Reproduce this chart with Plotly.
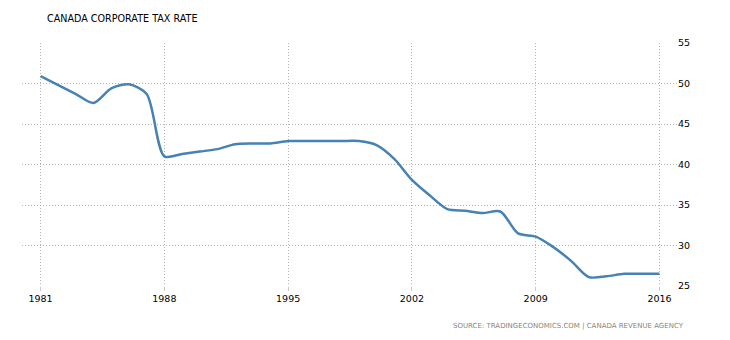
import plotly.graph_objects as go

# Canada corporate tax rate (%), yearly
years = list(range(1981, 2017))
rates = [50.9, 49.8, 48.7, 47.6, 49.4, 49.9, 48.7, 41.0, 41.3, 41.6,
         41.9, 42.5, 42.6, 42.6, 42.9, 42.9, 42.9, 42.9, 42.9, 42.4,
         40.7, 38.1, 36.2, 34.5, 34.3, 34.0, 34.2, 31.5, 31.1, 29.8,
         28.1, 26.1, 26.2, 26.5, 26.5, 26.5]

x_ticks = [1981, 1988, 1995, 2002, 2009, 2016]
y_ticks = [25, 30, 35, 40, 45, 50, 55]

title_text = "CANADA CORPORATE TAX RATE"
source_text = "SOURCE: TRADINGECONOMICS.COM | CANADA REVENUE AGENCY"

fig = go.Figure()
fig.add_trace(go.Scatter(
    x=years, y=rates, mode="lines",
    line=dict(color="#4682b4", width=2.5, shape="spline", smoothing=0.8),
    hoverinfo="x+y",
))

grid = dict(showgrid=True, gridcolor="#b4b4b4", griddash="1px,2px", gridwidth=1,
            zeroline=False, showline=False)

fig.update_layout(
    width=730, height=340,
    margin=dict(l=22, r=53, t=43, b=54),
    paper_bgcolor="white", plot_bgcolor="white",
    showlegend=False,
    font=dict(family="DejaVu Sans", size=9.5, color="#000000"),
    xaxis=dict(range=[1979.95, 2016.99], tickvals=x_ticks,
               ticktext=[str(t) for t in x_ticks], ticks="outside",
               ticklen=4, tickcolor="#c8c8c8", **grid),
    yaxis=dict(range=[25, 55], tickvals=y_ticks, side="right",
               ticks="", **grid),
    annotations=[
        dict(text=title_text, xref="paper", yref="paper",
             x=0.035, y=1.0, xanchor="left", yanchor="bottom",
             yshift=17, showarrow=False,
             font=dict(family="DejaVu Sans", size=9.6, color="#000000")),
        dict(text=source_text, xref="paper", yref="paper",
             x=1.0, y=0, xanchor="right", yanchor="top",
             xshift=9, yshift=-34, showarrow=False,
             font=dict(family="DejaVu Sans", size=7, color="#8a8580")),
    ],
)

fig.write_html("out.html")
